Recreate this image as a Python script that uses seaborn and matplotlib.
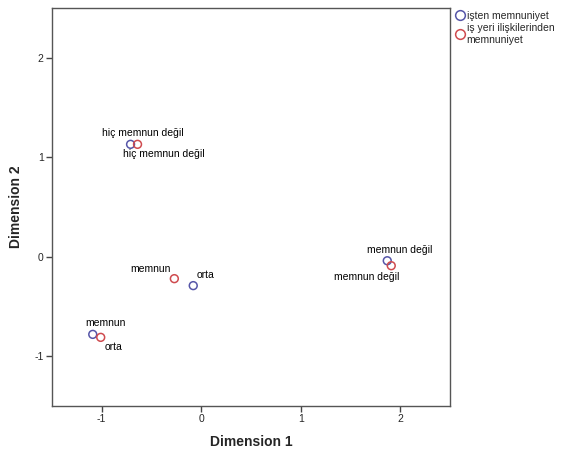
import pandas as pd
import numpy as np
from matplotlib import pyplot as plt
import seaborn as sns

# category points
cats_is = ['hiç memnun değil', 'memnun değil', 'orta', 'memnun']
dim1_is = [-0.71, 1.87, -0.08, -1.09]
dim2_is = [1.13, -0.04, -0.29, -0.78]

cats_iy = ['hiç memnun değil', 'memnun değil', 'memnun', 'orta']
dim1_iy = [-0.64, 1.91, -0.27, -1.01]
dim2_iy = [1.13, -0.09, -0.22, -0.81]

series = ['işten memnuniyet', 'iş yeri ilişkilerinden\nmemnuniyet']
colors = ['#5656a8', '#cf4b4f']

df = pd.DataFrame({
    'cat': cats_is + cats_iy,
    'd1': dim1_is + dim1_iy,
    'd2': dim2_is + dim2_iy,
    'var': [series[0]] * len(cats_is) + [series[1]] * len(cats_iy),
})

sns.set_style('white')
plt.rcParams['font.family'] = ['Liberation Sans', 'DejaVu Sans']
plt.rcParams['axes.unicode_minus'] = False

fig = plt.figure(figsize=(5.71, 4.58), dpi=100)
ax = fig.add_axes([0.091, 0.1135, 0.697, 0.869])

g = sns.scatterplot(data=df, x='d1', y='d2', hue='var', palette=colors,
                    marker='o', s=32, linewidth=1.1, ax=ax, legend=False)
# seaborn fills the markers, make them hollow rings
for coll in ax.collections:
    ec = coll.get_facecolors()
    coll.set_edgecolors(ec)
    coll.set_facecolors('none')

# label offsets (points): blue labels sit above, red ones below
off_is = [(9, 8), (9, 8), (9, 8), (9, 8)]
off_iy = [(19, -7), (-18, -8), (-17, 7), (9, -7)]
for c, x, y, o in zip(cats_is, dim1_is, dim2_is, off_is):
    ax.annotate(c, (x, y), xytext=o, textcoords='offset points',
                ha='center', va='center', fontsize=7.5, color='black')
for c, x, y, o in zip(cats_iy, dim1_iy, dim2_iy, off_iy):
    ax.annotate(c, (x, y), xytext=o, textcoords='offset points',
                ha='center', va='center', fontsize=7.5, color='black')

ax.set_xlim(-1.5, 2.5)
ax.set_ylim(-1.5, 2.5)
ax.set_xticks([-1, 0, 1, 2])
ax.set_yticks([-1, 0, 1, 2])
ax.tick_params(axis='both', direction='out', length=4, width=1, color='#444444',
               labelsize=7.5, pad=2, bottom=True, left=True)
for sp in ax.spines.values():
    sp.set_color('#555555')
    sp.set_linewidth(1)
ax.set_xlabel('Dimension 1', fontsize=10, fontweight='bold', labelpad=8)
ax.set_ylabel('Dimension 2', fontsize=10, fontweight='bold', labelpad=8)

handles = [plt.Line2D([], [], marker='o', linestyle='none', markersize=7,
                      markerfacecolor='none', markeredgecolor=c, markeredgewidth=1.1)
           for c in colors]
fig.legend(handles, series, loc='upper left', bbox_to_anchor=(0.79, 0.985),
           frameon=False, fontsize=7.5, handletextpad=0.1, handlelength=1.0,
           borderaxespad=0, labelspacing=0.2)

plt.savefig('out.png', dpi=100)
